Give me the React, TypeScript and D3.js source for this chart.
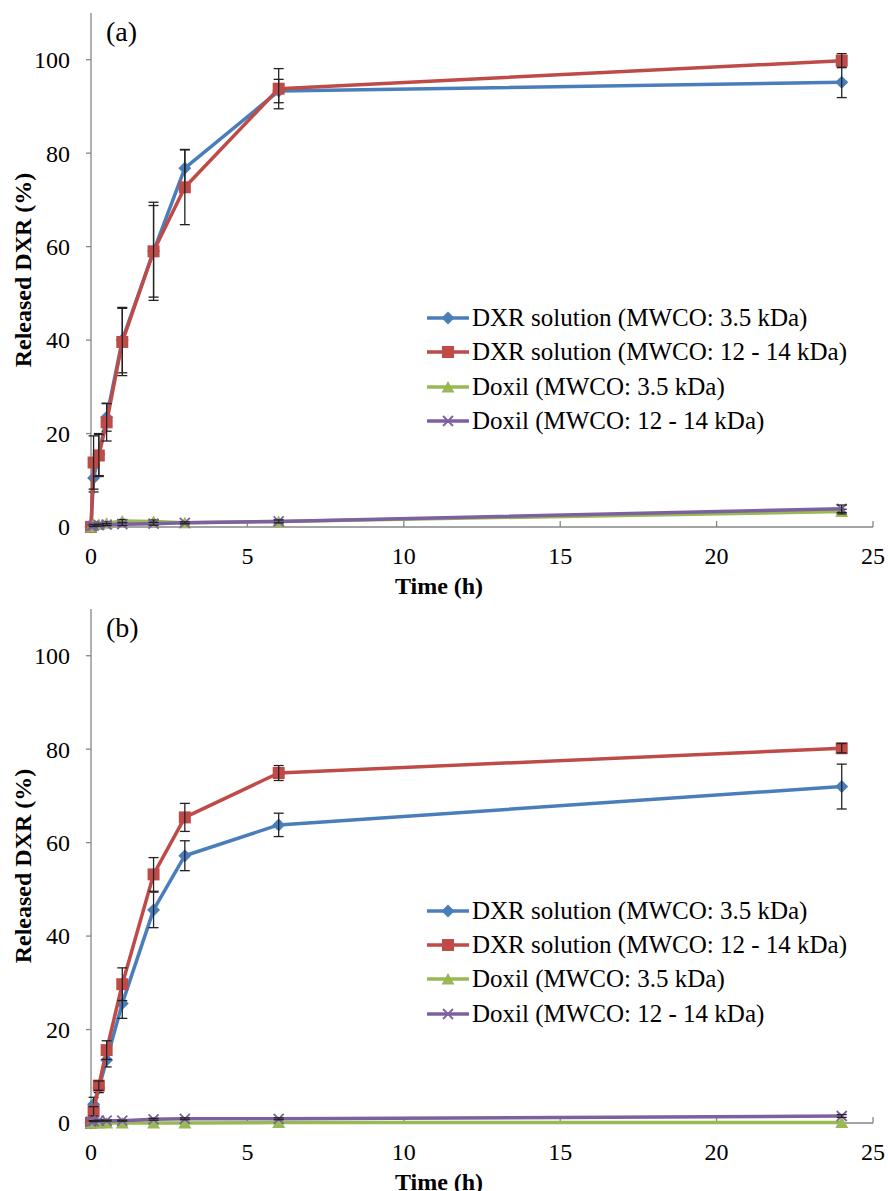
import React from 'react';
import * as d3 from 'd3';

// sampling times (h)
const times = [0, 0.083, 0.25, 0.5, 1, 2, 3, 6, 24];

// panel (a)
const aSol35 = [0, 10.5, 15.5, 23.5, 40.0, 59.0, 76.8, 93.3, 95.2];
const aSol35Err = [0, 3.0, 4.5, 3.0, 7.0, 10.5, 4.0, 2.5, 3.3];
const aSol1214 = [0, 13.8, 15.3, 22.4, 39.6, 59.0, 72.7, 93.8, 99.8];
const aSol1214Err = [0, 5.7, 4.5, 4.0, 7.2, 9.8, 8.0, 4.3, 1.5];
const aDox35 = [0, 0.6, 0.6, 0.8, 1.3, 1.2, 0.9, 1.2, 3.3];
const aDox35Err = [0, 0.2, 0.2, 0.3, 0.3, 0.3, 0.2, 0.3, 0.5];
const aDox1214 = [0.2, 0.3, 0.4, 0.5, 0.6, 0.7, 0.9, 1.2, 3.9];
const aDox1214Err = [0, 0.2, 0.2, 0.2, 0.3, 0.3, 0.2, 0.3, 0.8];

// panel (b)
const bSol35 = [0, 4.0, 7.5, 13.5, 25.6, 45.6, 57.2, 63.8, 72.0];
const bSol35Err = [0, 1.5, 1.0, 1.5, 3.2, 3.8, 3.2, 2.5, 4.8];
const bSol1214 = [0, 2.5, 8.0, 15.6, 29.7, 53.2, 65.4, 74.9, 80.2];
const bSol1214Err = [0, 1.0, 1.0, 2.0, 3.5, 3.6, 3.0, 1.6, 1.0];
const bDox35 = [0, 0, 0, 0, 0, 0, 0, 0.1, 0.1];
const bDox35Err = [0, 0, 0, 0, 0, 0, 0, 0, 0];
const bDox1214 = [0.3, 0.4, 0.5, 0.5, 0.5, 0.8, 0.9, 0.9, 1.5];
const bDox1214Err = [0, 0.1, 0.1, 0.1, 0.1, 0.2, 0.2, 0.2, 0.3];

const seriesNames = [
  'DXR solution (MWCO: 3.5 kDa)',
  'DXR solution (MWCO: 12 - 14 kDa)',
  'Doxil (MWCO: 3.5 kDa)',
  'Doxil (MWCO: 12 - 14 kDa)',
];
const seriesColors = ['#4A7EBB', '#BE4B48', '#98B954', '#7D60A0'];
const seriesMarkers = ['diamond', 'square', 'triangle', 'cross'];

const xTicks = [0, 5, 10, 15, 20, 25];
const yTicks = [0, 20, 40, 60, 80, 100];

const FONT = 'Liberation Serif, DejaVu Serif, serif';
const AXIS = '#868686';

const markerPath = (kind: string) => {
  if (kind === 'diamond') return 'M0,-6.5L6.5,0L0,6.5L-6.5,0Z';
  if (kind === 'square') return 'M-6,-6H6V6H-6Z';
  if (kind === 'triangle') return 'M0,-6L6.5,5.5H-6.5Z';
  return 'M-5,-5L5,5M-5,5L5,-5';
};

const Marker = ({ kind, color, x, y }: { kind: string; color: string; x: number; y: number }) =>
  kind === 'cross' ? (
    <path d={markerPath(kind)} transform={`translate(${x},${y})`} stroke={color} strokeWidth={1.8} fill="none" />
  ) : (
    <path d={markerPath(kind)} transform={`translate(${x},${y})`} fill={color} />
  );

type PanelProps = {
  top: number;
  label: string;
  values: number[][];
  errors: number[][];
  legendY: number[];
};

const Panel = ({ top, label, values, errors, legendY }: PanelProps) => {
  const left = 91;
  const right = 873;
  const height = 514;
  const bottom = top + height;

  const x = d3.scaleLinear().domain([0, 25]).range([left, right]);
  const y = d3.scaleLinear().domain([0, 110]).range([bottom, top]);

  const line = d3
    .line<number>()
    .x((_, i) => x(times[i]))
    .y((d) => y(d));

  return (
    <g>
      {/* axes */}
      <line x1={left} x2={left} y1={top} y2={bottom} stroke={AXIS} strokeWidth={1.3} />
      <line x1={left} x2={right} y1={bottom} y2={bottom} stroke={AXIS} strokeWidth={1.3} />
      {yTicks.map((t) => (
        <g key={'y' + t}>
          <line x1={left - 5} x2={left} y1={y(t)} y2={y(t)} stroke={AXIS} strokeWidth={1.3} />
          <text x={70} y={y(t)} dy="0.35em" textAnchor="end" fontSize={24} fill="#000">
            {t}
          </text>
        </g>
      ))}
      {xTicks.map((t) => (
        <g key={'x' + t}>
          <line x1={x(t)} x2={x(t)} y1={bottom} y2={bottom - 6} stroke={AXIS} strokeWidth={1.3} />
          <text x={x(t)} y={bottom + 37} textAnchor="middle" fontSize={24} fill="#000">
            {t}
          </text>
        </g>
      ))}
      <text x={439} y={bottom + 67} textAnchor="middle" fontSize={24} fontWeight="bold">
        Time (h)
      </text>
      <text
        transform={`translate(31,${(top + bottom) / 2}) rotate(-90)`}
        textAnchor="middle"
        fontSize={24}
        fontWeight="bold"
      >
        Released DXR (%)
      </text>
      <text x={106} y={top + 28} fontSize={28}>
        {label}
      </text>

      {/* series */}
      {values.map((vals, s) => (
        <g key={'s' + s}>
          <path d={line(vals) || ''} fill="none" stroke={seriesColors[s]} strokeWidth={3.5} strokeLinejoin="round" />
          {vals.map((v, i) => (
            <Marker key={i} kind={seriesMarkers[s]} color={seriesColors[s]} x={x(times[i])} y={y(v)} />
          ))}
          {vals.map((v, i) =>
            errors[s][i] > 0 ? (
              <g key={'e' + i} stroke="#222" strokeWidth={1.3}>
                <line x1={x(times[i])} x2={x(times[i])} y1={y(v - errors[s][i])} y2={y(v + errors[s][i])} />
                <line x1={x(times[i]) - 5} x2={x(times[i]) + 5} y1={y(v - errors[s][i])} y2={y(v - errors[s][i])} />
                <line x1={x(times[i]) - 5} x2={x(times[i]) + 5} y1={y(v + errors[s][i])} y2={y(v + errors[s][i])} />
              </g>
            ) : null
          )}
        </g>
      ))}

      {/* legend */}
      {seriesNames.map((name, s) => (
        <g key={'l' + s}>
          <line x1={427} x2={469} y1={legendY[s]} y2={legendY[s]} stroke={seriesColors[s]} strokeWidth={3.5} />
          <Marker kind={seriesMarkers[s]} color={seriesColors[s]} x={448} y={legendY[s]} />
          <text x={472} y={legendY[s]} dy="0.33em" fontSize={25} fill="#000">
            {name}
          </text>
        </g>
      ))}
    </g>
  );
};

export default function App() {
  return (
    <svg
      width={888}
      height={1191}
      style={{ position: 'absolute', left: 0, top: 0, background: '#fff', fontFamily: FONT }}
    >
      <rect width={888} height={1191} fill="#fff" />
      <Panel
        top={13}
        label="(a)"
        values={[aSol35, aSol1214, aDox35, aDox1214]}
        errors={[aSol35Err, aSol1214Err, aDox35Err, aDox1214Err]}
        legendY={[318, 352, 387, 421]}
      />
      <Panel
        top={609}
        label="(b)"
        values={[bSol35, bSol1214, bDox35, bDox1214]}
        errors={[bSol35Err, bSol1214Err, bDox35Err, bDox1214Err]}
        legendY={[911, 945, 979, 1014]}
      />
    </svg>
  );
}
